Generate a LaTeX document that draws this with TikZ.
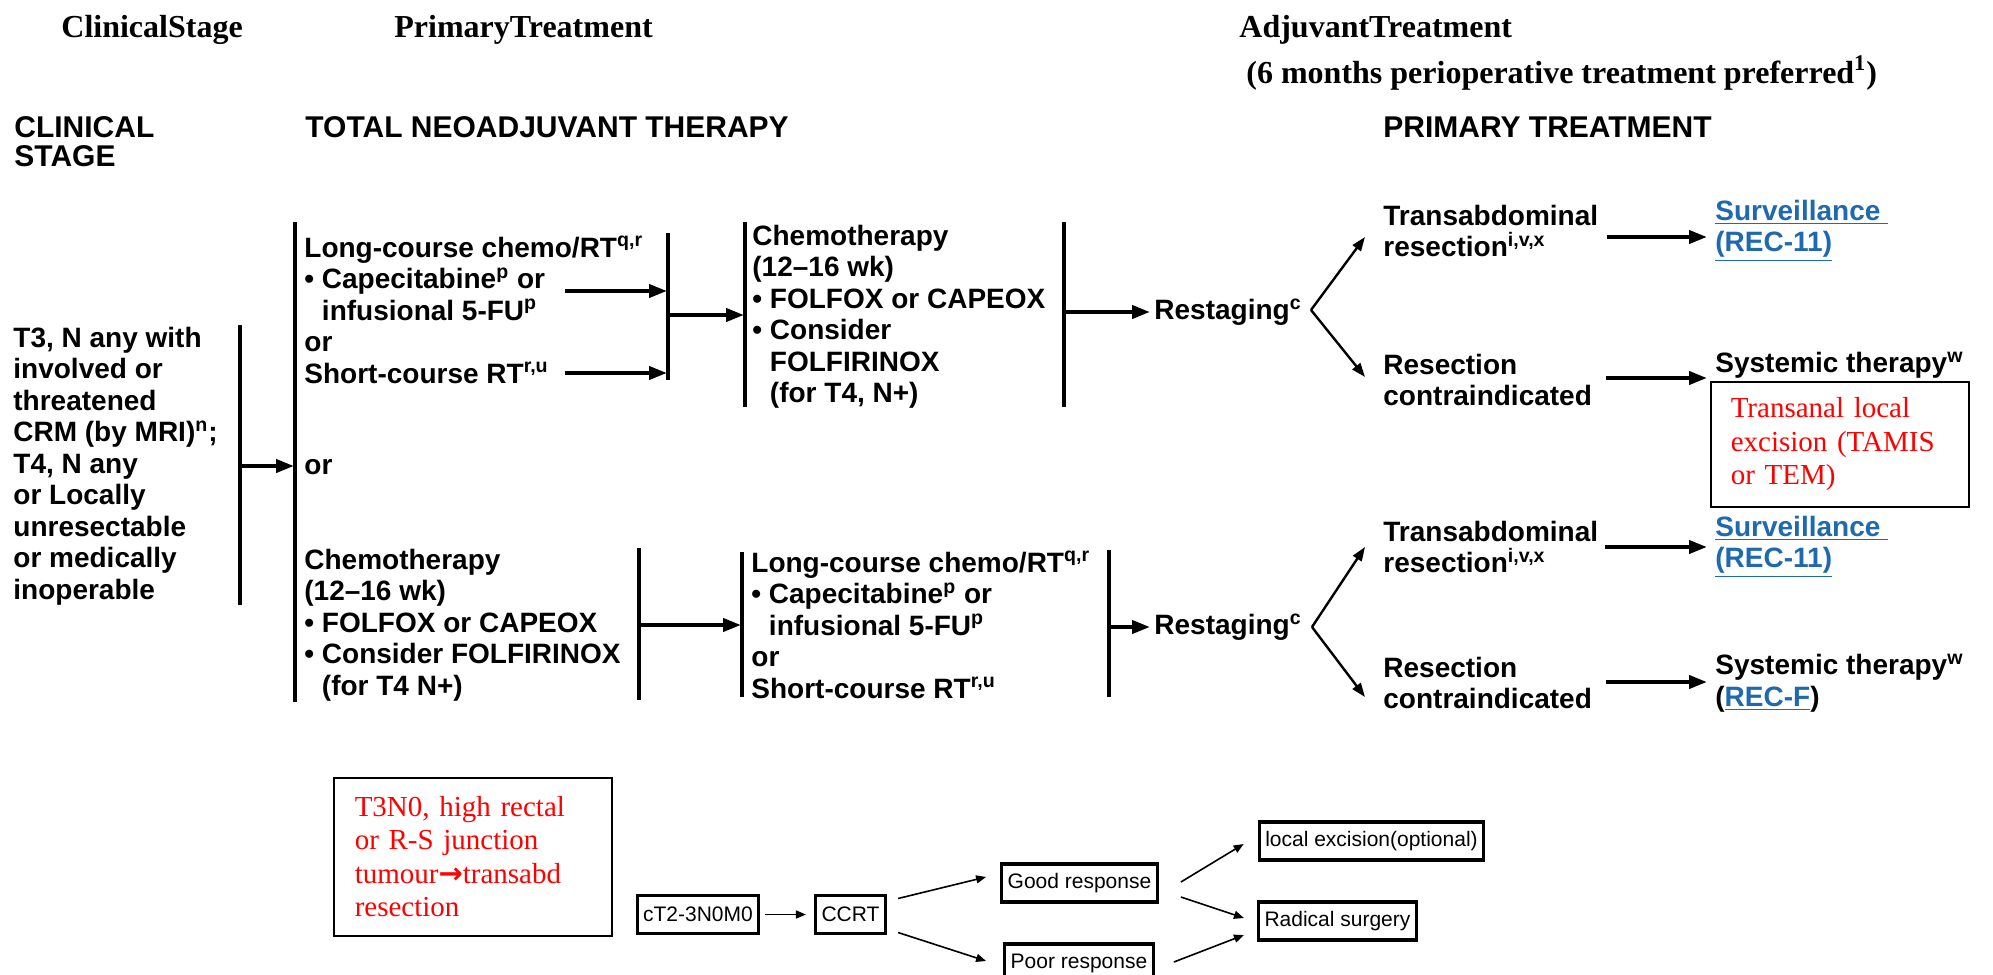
\documentclass[tikz,border=0pt]{standalone}
\usepackage{fontspec}
\setmainfont{Liberation Serif}
\newfontfamily\nccnfont{Liberation Sans}
\newfontfamily\arrowfont{DejaVu Sans}
\usetikzlibrary{arrows.meta}
\definecolor{linkblue}{RGB}{31,105,175}
\definecolor{notered}{RGB}{255,0,0}
\newcommand{\lnk}[1]{{\color{linkblue}\underline{#1}}}
\newcommand{\sps}[1]{\textsuperscript{#1}}

\begin{document}
\begin{tikzpicture}
  [x=0.5pt,y=-0.5pt,
   every node/.style={inner sep=0pt,anchor=west,align=left},
   head/.style={font=\fontsize{16pt}{19pt}\selectfont\bfseries,anchor=base west},
   capt/.style={font=\nccnfont\fontsize{15pt}{14.5pt}\selectfont\bfseries,anchor=base west},
   body/.style={font=\nccnfont\fontsize{14pt}{15.75pt}\selectfont\bfseries},
   note/.style={draw,line width=0.75pt,text=notered,anchor=north west,
     font=\fontsize{14.5pt}{16.75pt}\selectfont,inner xsep=10pt},
   sbox/.style={draw,line width=1.6pt,anchor=center,inner xsep=3pt,
     minimum height=19pt,font=\nccnfont\fontsize{10.5pt}{12pt}\selectfont},
   bar/.style={line width=1.7pt},
   arr/.style={line width=2pt,-{Triangle[length=9pt,width=6.5pt]}},
   branch/.style={line width=1.2pt,-{Triangle[length=7pt,width=5pt]}},
   sarr/.style={line width=0.8pt,-{Triangle[length=5pt,width=4pt]}}]
  \path[use as bounding box,fill=white] (0,0) rectangle (1993,975);

  % column titles
  \node[head] (tstage) at (61,37)   {ClinicalStage};
  \node[head] (tprim)  at (394,37)  {PrimaryTreatment};
  \node[head] (tadj)   at (1239,37) {AdjuvantTreatment};
  \node[head] (tsix)   at (1246,83) {(6 months perioperative treatment preferred\sps{1})};
  \node[capt] (hstage) at (14,166)   {CLINICAL\\STAGE};
  \node[capt] (htnt)   at (305,137)  {TOTAL NEOADJUVANT THERAPY};
  \node[capt] (hprim)  at (1383,137) {PRIMARY TREATMENT};

  % stage and the two therapy orders
  \node[body] (stage) at (13,466) {T3, N any with\\involved or\\threatened\\CRM (by MRI)\sps{n};\\T4, N any\\or Locally\\unresectable\\or medically\\inoperable};
  \node[body] (long1) at (304,310) {Long-course chemo/RT\sps{q,r}\\• Capecitabine\sps{p} or\\\phantom{• }infusional 5-FU\sps{p}\\or\\Short-course RT\sps{r,u}};
  \node[body] (or1)   at (304,467) {or};
  \node[body] (chemo2) at (304,625) {Chemotherapy\\(12–16 wk)\\• FOLFOX or CAPEOX\\• Consider FOLFIRINOX\\\phantom{• }(for T4 N+)};
  \node[body] (chemo1) at (752,317) {Chemotherapy\\(12–16 wk)\\• FOLFOX or CAPEOX\\• Consider\\\phantom{• }FOLFIRINOX\\\phantom{• }(for T4, N+)};
  \node[body] (long2) at (751,625) {Long-course chemo/RT\sps{q,r}\\• Capecitabine\sps{p} or\\\phantom{• }infusional 5-FU\sps{p}\\or\\Short-course RT\sps{r,u}};

  \node[body] (rst1) at (1154,312) {Restaging\sps{c}};
  \node[body] (rst2) at (1154,627) {Restaging\sps{c}};
  \node[body] (tra1) at (1383,231) {Transabdominal\\resection\sps{i,v,x}};
  \node[body] (res1) at (1383,380) {Resection\\contraindicated};
  \node[body] (tra2) at (1383,547) {Transabdominal\\resection\sps{i,v,x}};
  \node[body] (res2) at (1383,683) {Resection\\contraindicated};
  \node[body] (sur1) at (1715,231) {\lnk{Surveillance\ }\\\lnk{(REC-11)}};
  \node[body] (sys1) at (1715,365) {Systemic therapy\sps{w}};
  \node[body] (sur2) at (1715,547) {\lnk{Surveillance\ }\\\lnk{(REC-11)}};
  \node[body] (sys2) at (1715,683) {Systemic therapy\sps{w}\\(\lnk{REC-F})};

  \node[note,text width=109pt,minimum height=62.5pt] (tamis) at (1710,381) {Transanal local\\excision (TAMIS\\or TEM)};

  % brackets
  \foreach \x/\ya/\yb in {240/325/605, 295/222/702, 668/233/380, 745/222/407,
                          1064/222/407, 639/548/700, 742/552/697, 1109/550/697}
    \draw[bar] (\x,\ya) -- (\x,\yb);

  \coordinate (j1) at (240,466);  \coordinate (j1e) at (294,466);
  \coordinate (c1) at (565,291);  \coordinate (c1e) at (667,291);
  \coordinate (c2) at (565,373);  \coordinate (c2e) at (667,373);
  \coordinate (j3) at (668,315);  \coordinate (j3e) at (744,315);
  \coordinate (j5) at (1064,312);
  \coordinate (j6) at (639,625);  \coordinate (j6e) at (741,625);
  \coordinate (j7) at (1109,627);
  \coordinate (v1) at (1311,310); \coordinate (v2) at (1312,627);

  \foreach \from/\to in {j1/j1e,c1/c1e,c2/c2e,j3/j3e,j6/j6e}
    \draw[arr] (\from) -- (\to);
  \draw[arr] (j5) -- ([xshift=-2pt]rst1.west);
  \draw[arr] (j7) -- ([xshift=-2pt]rst2.west);

  \draw[branch] (v1) -- ([xshift=-9pt,yshift=-3pt]tra1.west);
  \draw[branch] (v1) -- ([xshift=-9pt,yshift=1.5pt]res1.west);
  \draw[branch] (v2) -- ([xshift=-9pt]tra2.west);
  \draw[branch] (v2) -- ([xshift=-9pt,yshift=-7pt]res2.west);

  \draw[arr] ([xshift=4pt,yshift=-3pt]tra1.east) -- ([xshift=-4pt,yshift=-3pt]sur1.west);
  \draw[arr] ([xshift=7pt,yshift=1pt]res1.east) -- ([xshift=-4pt,yshift=-6.5pt]sys1.west);
  \draw[arr] ([xshift=3pt]tra2.east) -- ([xshift=-4pt]sur2.west);
  \draw[arr] ([xshift=7pt,yshift=0.5pt]res2.east) -- ([xshift=-4pt,yshift=0.5pt]sys2.west);

  % low rectal small chart
  \node[note,text width=118pt,minimum height=79pt,inner xsep=10.5pt] (high) at (333,777)
    {T3N0, high rectal\\or R-S junction\\tumour{\arrowfont\bfseries →}transabd\\resection};
  \node[sbox] (ct)    at (698,914.5)   {cT2-3N0M0};
  \node[sbox] (ccrt)  at (850.5,914.5) {CCRT};
  \node[sbox] (good)  at (1079.5,883)  {Good response};
  \node[sbox] (poor)  at (1079,963)    {Poor response};
  \node[sbox] (local) at (1371.5,841)  {local excision(optional)};
  \node[sbox] (rad)   at (1337.5,921)  {Radical surgery};

  \draw[sarr] ([xshift=2.5pt]ct.east) -- ([xshift=-4pt]ccrt.west);
  \draw[sarr] ([xshift=5.5pt,yshift=8pt]ccrt.east) -- ([xshift=-7pt,yshift=3pt]good.west);
  \draw[sarr] ([xshift=5.5pt,yshift=-9pt]ccrt.east) -- ([xshift=-8.5pt,yshift=1pt]poor.west);
  \draw[sarr] ([xshift=11pt,yshift=0.5pt]good.east) -- ([xshift=-7pt,yshift=-1.5pt]local.west);
  \draw[sarr] ([xshift=11pt,yshift=-7pt]good.east) -- ([xshift=-6.5pt,yshift=1.5pt]rad.west);
  \draw[sarr] ([xshift=9.5pt,yshift=0.5pt]poor.east) -- ([xshift=-6.5pt,yshift=-7pt]rad.west);
\end{tikzpicture}
\end{document}
